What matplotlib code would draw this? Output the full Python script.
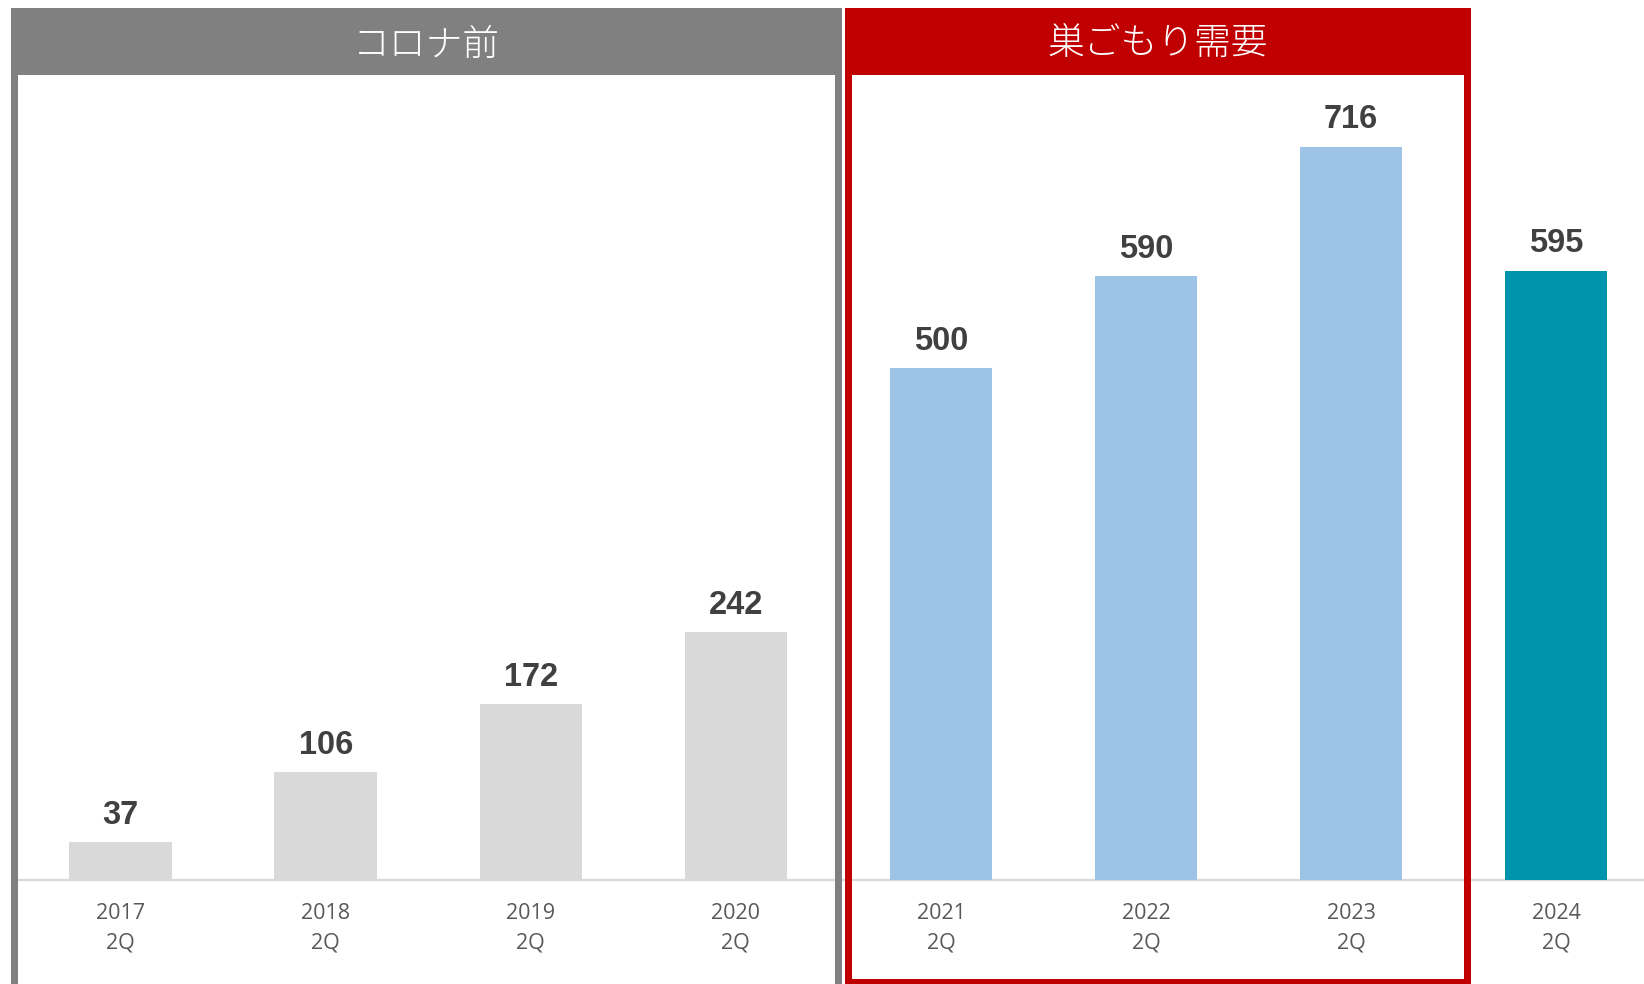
import matplotlib.pyplot as plt
from matplotlib.patches import Rectangle

plt.rcParams['font.family'] = ['Liberation Sans', 'DejaVu Sans']

years = ['2017', '2018', '2019', '2020', '2021', '2022', '2023', '2024']
quarter = '2Q'
values = [37, 106, 172, 242, 500, 590, 716, 595]
groups = ['pre', 'pre', 'pre', 'pre', 'nest', 'nest', 'nest', 'now']
group_titles = {'pre': 'コロナ前', 'nest': '巣ごもり需要'}

bar_colors = {'pre': '#d9d9d9', 'nest': '#9dc3e6', 'now': '#0093ae'}
frame_colors = {'pre': '#808080', 'nest': '#c00000'}

W, H = 1644, 984
fig = plt.figure(figsize=(W / 100, H / 100), dpi=100)
ax = fig.add_axes([0, 0, 1, 1])
ax.patch.set_visible(False)
ax.axis('off')

x = list(range(len(values)))
ax.bar(x, values, width=0.5, color=[bar_colors[g] for g in groups], zorder=2)
for xi, v in zip(x, values):
    ax.annotate(str(v), (xi, v), xytext=(0, 8), textcoords='offset points',
                ha='center', va='bottom', fontsize=23.5, fontweight='bold',
                color='#404040', zorder=4)

# category labels under the baseline (two lines)
for xi, y in zip(x, years):
    for text, off in ((y, -24.0), (quarter, -45.0)):
        ax.annotate(text, (xi, 0), xytext=(0, off), textcoords='offset points',
                    ha='center', va='center', fontsize=15.5, color='#595959',
                    family=['Open Sans', 'DejaVu Sans'], zorder=4)

ax.set_xlim(-0.588, 7.428)
ax.set_ylim(-101.2, 859.0)
ax.axhline(0, xmin=17.8 / W, xmax=1.0, color='#d9d9d9', lw=1.6, zorder=1.8)


def px(x0, y0, x1, y1, **kw):
    # rectangle given in pixel coords (top-left origin)
    return Rectangle((x0 / W, 1 - y1 / H), (x1 - x0) / W, (y1 - y0) / H,
                     transform=fig.transFigure, clip_on=False, lw=0, **kw)


def frame(key, x0, x1, bottom_border, ty):
    c = frame_colors[key]
    t, hb, b = 8.4, 75.5, 7.3
    ax.add_patch(px(x0, t, x1, hb, color=c, zorder=3))
    ax.add_patch(px(x0, t, x0 + b, H, color=c, zorder=3))
    ax.add_patch(px(x1 - b, t, x1, H, color=c, zorder=3))
    ax.add_patch(px(x0 + b, hb, x1 - b, H, color='white', zorder=0.5))
    if bottom_border:
        ax.add_patch(px(x0, H - 5, x1, H, color=c, zorder=3))
    ax.text((x0 + x1) / 2 / W, 1 - ty / H, group_titles[key],
            transform=fig.transFigure, ha='center', va='center',
            fontsize=26.5, color='white', fontweight='light',
            family=['Noto Sans CJK JP', 'DejaVu Sans'], zorder=4)


frame('pre', 10.5, 842.0, False, 46)
frame('nest', 845.0, 1471.0, True, 44)

fig.savefig('out.png', dpi=100)
